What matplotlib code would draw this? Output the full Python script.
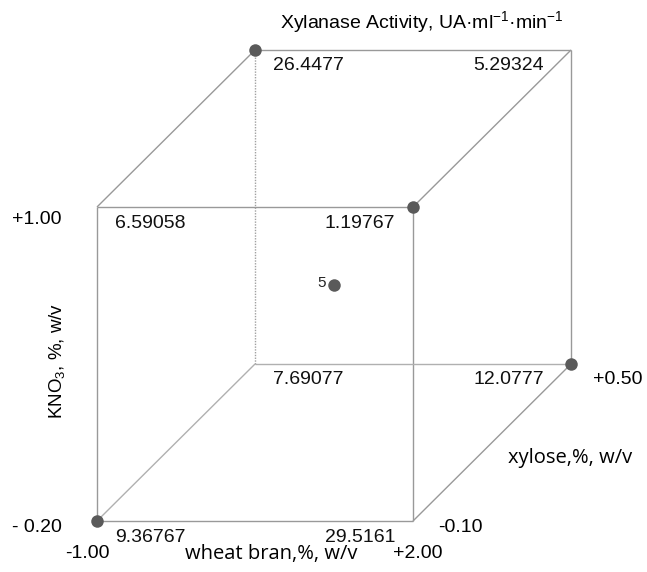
import matplotlib
matplotlib.use("Agg")
import matplotlib.pyplot as plt
import numpy as np

plt.rcParams['font.family'] = ['Liberation Sans', 'DejaVu Sans']
plt.rcParams['mathtext.fontset'] = 'custom'
plt.rcParams['mathtext.rm'] = 'Liberation Sans'
plt.rcParams['mathtext.it'] = 'Liberation Sans'

# ---- data ----
wheat_levels = [-1.00, 2.00]
xylose_levels = [-0.10, 0.50]
kno3_levels = [-0.20, 1.00]
wheat_labels = ["-1.00", "+2.00"]
xylose_labels = ["-0.10", "+0.50"]
kno3_labels = ["- 0.20", "+1.00"]

corner_wheat = [-1.00, 2.00, -1.00, 2.00, -1.00, 2.00, -1.00, 2.00]
corner_xylose = [-0.10, -0.10, 0.50, 0.50, -0.10, -0.10, 0.50, 0.50]
corner_kno3 = [-0.20, -0.20, -0.20, -0.20, 1.00, 1.00, 1.00, 1.00]
activity = ["9.36767", "29.5161", "7.69077", "12.0777",
            "6.59058", "1.19767", "26.4477", "5.29324"]

run_wheat = [-1.00, 2.00, -1.00, 2.00, 0.50]
run_xylose = [-0.10, -0.10, 0.50, 0.50, 0.20]
run_kno3 = [-0.20, 1.00, 1.00, -0.20, 0.40]
run_labels = ["", "", "", "", "5"]

title = "Xylanase Activity, UA·ml$^{\\mathregular{-1}}$·min$^{\\mathregular{-1}}$"
xlabel = "wheat bran,%, w/v"
ylabel = "KNO$_{\\mathregular{3}}$, %, w/v"
zlabel = "xylose,%, w/v"

# ---- projection (oblique cube) ----
DEPTH = 0.5


def norm(v, lv):
    return (np.asarray(v, float) - lv[0]) / (lv[1] - lv[0])


def proj(w, x, k):
    u = norm(w, wheat_levels)
    v = norm(x, xylose_levels)
    t = norm(k, kno3_levels)
    return u + DEPTH * v, t + DEPTH * v


W, H = 647, 572
fig = plt.figure(figsize=(W / 100, H / 100), dpi=100)
ax = fig.add_axes([0, 0, 1, 1])
sx, sy = 316.0, 314.0
x0, y0 = 97.0, 51.0
ax.set_xlim(-x0 / sx, (W - x0) / sx)
ax.set_ylim(-y0 / sy, (H - y0) / sy)
ax.axis('off')

lw = 1.0
col = '#999999'
lo_w, hi_w = wheat_levels
lo_x, hi_x = xylose_levels
lo_k, hi_k = kno3_levels
FS = 14


def edge(a, b, ls='-', c=col):
    xs, ys = proj([a[0], b[0]], [a[1], b[1]], [a[2], b[2]])
    ax.plot(xs, ys, color=c, lw=lw, ls=ls, solid_capstyle='butt', zorder=1)


# front face
edge((lo_w, lo_x, lo_k), (hi_w, lo_x, lo_k))
edge((hi_w, lo_x, lo_k), (hi_w, lo_x, hi_k))
edge((hi_w, lo_x, hi_k), (lo_w, lo_x, hi_k))
edge((lo_w, lo_x, hi_k), (lo_w, lo_x, lo_k))
# back visible
edge((lo_w, hi_x, hi_k), (hi_w, hi_x, hi_k))
edge((hi_w, hi_x, hi_k), (hi_w, hi_x, lo_k))
# depth edges
edge((lo_w, lo_x, hi_k), (lo_w, hi_x, hi_k))
edge((hi_w, lo_x, hi_k), (hi_w, hi_x, hi_k))
edge((hi_w, lo_x, lo_k), (hi_w, hi_x, lo_k))
# hidden edges
edge((lo_w, lo_x, lo_k), (lo_w, hi_x, lo_k), c='#b0b0b0')
edge((lo_w, hi_x, lo_k), (hi_w, hi_x, lo_k), c='#b0b0b0')
edge((lo_w, hi_x, lo_k), (lo_w, hi_x, hi_k), ls=(0, (1, 1)), c='#a0a0a0')

# run points
px, py = proj(run_wheat, run_xylose, run_kno3)
ax.plot(px, py, 'o', color='#5a5a5a', ms=9, mec='none', zorder=3)
for xx, yy, lab in zip(px, py, run_labels):
    if lab:
        ax.annotate(lab, (xx, yy), xytext=(-12, 2), textcoords='offset pixels',
                    ha='center', va='center', fontsize=11, color='#222222')

# corner values
cx, cy = proj(corner_wheat, corner_xylose, corner_kno3)
for xx, yy, w, xl, lab in zip(cx, cy, corner_wheat, corner_xylose, activity):
    if w == lo_w:
        dx, ha = 18, 'left'
    else:
        dx, ha = (-18 if xl == lo_x else -27), 'right'
    ax.annotate(lab, (xx, yy), xytext=(dx, -16), textcoords='offset pixels',
                ha=ha, va='center', fontsize=FS, color='#111111')

# level labels
fx, fy = proj(wheat_levels, [lo_x, lo_x], [lo_k, lo_k])
for xx, yy, lab in zip(fx, fy, wheat_labels):
    ax.annotate(lab, (xx, yy), xytext=(-10 if lab.startswith('-') else 5, -33),
                textcoords='offset pixels', ha='center', va='center', fontsize=FS)
kx, ky = proj([lo_w, lo_w], [lo_x, lo_x], kno3_levels)
for xx, yy, lab in zip(kx, ky, kno3_labels):
    ax.annotate(lab, (xx, yy), xytext=(-60, -7 if lab.startswith('-') else -12),
                textcoords='offset pixels', ha='center', va='center', fontsize=FS)
zx, zy = proj([hi_w, hi_w], xylose_levels, [lo_k, lo_k])
for xx, yy, lab in zip(zx, zy, xylose_labels):
    ax.annotate(lab, (xx, yy), xytext=(47, -7 if lab.startswith('-') else -15),
                textcoords='offset pixels', ha='center', va='center', fontsize=FS)

# axis titles
mx, my = proj([0.5 * (lo_w + hi_w)], [lo_x], [lo_k])
ax.annotate(xlabel, (mx[0], my[0]), xytext=(16, -33), textcoords='offset pixels',
            ha='center', va='center', fontsize=14.5, family=['Open Sans', 'DejaVu Sans'])
lx, ly = proj([lo_w], [lo_x], [0.5 * (lo_k + hi_k)])
ax.annotate(ylabel, (lx[0], ly[0]), xytext=(-40, 3), textcoords='offset pixels',
            ha='center', va='center', fontsize=13.5, rotation=90)
rx, ry = proj([hi_w], [0.5 * (lo_x + hi_x)], [lo_k])
ax.annotate(zlabel, (rx[0], ry[0]), xytext=(78, -16), textcoords='offset pixels',
            ha='center', va='center', fontsize=14.5, family=['Open Sans', 'DejaVu Sans'])
tx, ty = proj([0.5 * (lo_w + hi_w)], [hi_x], [hi_k])
ax.annotate(title, (tx[0], ty[0]), xytext=(9, 28), textcoords='offset pixels',
            ha='center', va='center', fontsize=FS)

fig.savefig("out.png", dpi=100)
